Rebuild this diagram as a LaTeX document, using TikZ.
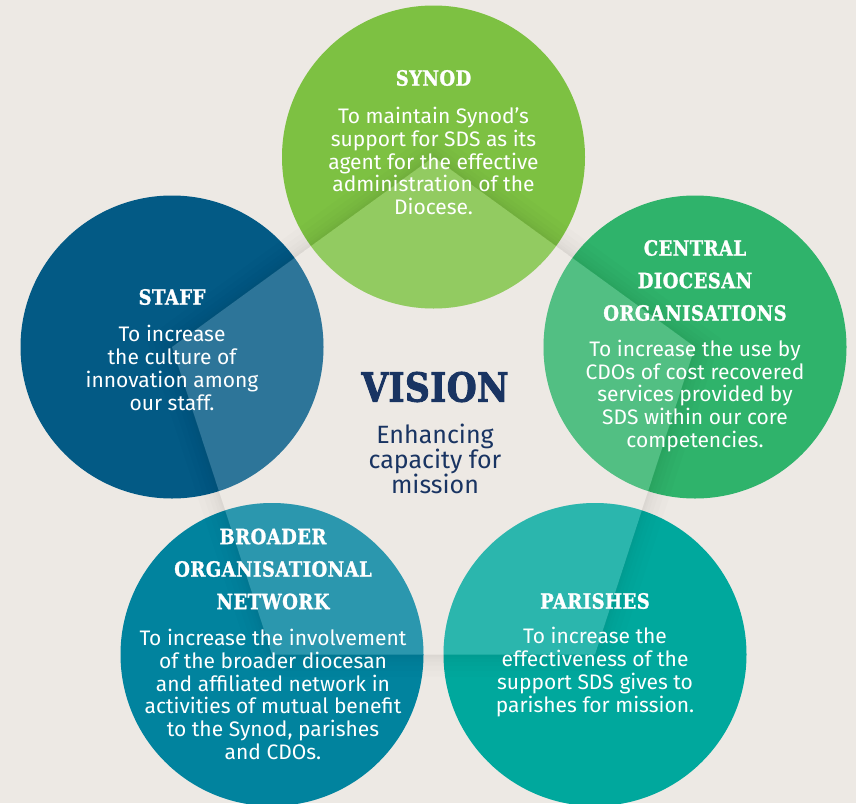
\documentclass[tikz,border=0pt]{standalone}
\usepackage{fontspec}
\setmainfont{Fira Sans}
\newfontfamily\slab{DejaVu Serif}[FakeStretch=0.86,LetterSpace=2,FakeBold=1.2]
\newfontfamily\slabv{DejaVu Serif}[FakeStretch=0.86,LetterSpace=1,FakeBold=2.2]
\definecolor{bgc}{RGB}{237,233,228}
\definecolor{synodc}{RGB}{125,193,66}
\definecolor{staffc}{RGB}{3,90,133}
\definecolor{cdoc}{RGB}{47,179,107}
\definecolor{broadc}{RGB}{1,131,158}
\definecolor{parc}{RGB}{0,168,157}
\definecolor{navy}{RGB}{25,52,98}
\tikzset{
  ring/.style={circle,minimum size=303pt,inner sep=0pt,draw=none},
  ttl/.style={text=white,align=center,inner sep=0pt,font=\slab\bfseries\fontsize{21}{32.5}\selectfont},
  body/.style={text=white,align=center,inner sep=0pt,font=\fontsize{21}{22.8}\selectfont},
}
\begin{document}
\begin{tikzpicture}[x=1pt,y=-1pt]
\fill[bgc] (0,0) rectangle (856,803);
\useasboundingbox (0,0) rectangle (856,803);
\node[ring,fill=synodc] (S) at (433.5,157) {};
\node[ring,fill=staffc] (T) at (172,347) {};
\node[ring,fill=cdoc] (C) at (695,347) {};
\node[ring,fill=broadc] (B) at (272,654.5) {};
\node[ring,fill=parc] (P) at (595,654.5) {};
% shadow outside the pentagon
\begin{scope}[even odd rule]
\clip (0,0) rectangle (856,803) (S.center)--(C.center)--(P.center)--(B.center)--(T.center)--cycle;
\foreach \w in {44,32,22,14,8,4}{
  \draw[black,opacity=0.012,line width=\w pt,line join=miter] (S.center)--(C.center)--(P.center)--(B.center)--(T.center)--cycle;
}
\end{scope}
% lighter inner parts of the circles
\foreach \n in {S,T,C,B,P}{
\begin{scope}
\clip (\n) circle (151.5);
\fill[white,opacity=0.17] (S.center)--(C.center)--(P.center)--(B.center)--(T.center)--cycle;
\end{scope}
}
% texts
\node[ttl] (st) at (433.5,78) {SYNOD};
\node[body] (sb) at (433.5,161) {To maintain Synod’s\\support for SDS as its\\agent for the effective\\administration of the\\Diocese.};
\node[ttl] (tt) at (172,297) {STAFF};
\node[body] (tb) at (172,368) {To increase\\the culture of\\innovation among\\our staff.};
\node[ttl] (ct) at (695,280.5) {CENTRAL\\DIOCESAN\\ORGANISATIONS};
\node[body] (cb) at (695,396) {To increase the use by\\CDOs of cost recovered\\services provided by\\SDS within our core\\competencies.};
\node[ttl] (bt) at (273,569) {BROADER\\ORGANISATIONAL\\NETWORK};
\node[body] (bb) at (273,694.5) {To increase the involvement\\of the broader diocesan\\and affiliated network in\\activities of mutual benefit\\to the Synod, parishes\\and CDOs.};
\node[ttl] (pt) at (595,601) {PARISHES};
\node[body] (pb) at (595,672) {To increase the\\effectiveness of the\\support SDS gives to\\parishes for mission.};
\node[text=navy,inner sep=0pt,font=\slabv\bfseries\fontsize{40}{44}\selectfont] (v) at (435,387) {VISION};
\node[text=navy,align=center,inner sep=0pt,font=\fontsize{25}{25}\selectfont] (vs) at (435,459) {Enhancing\\capacity for\\mission};
\end{tikzpicture}
\end{document}
